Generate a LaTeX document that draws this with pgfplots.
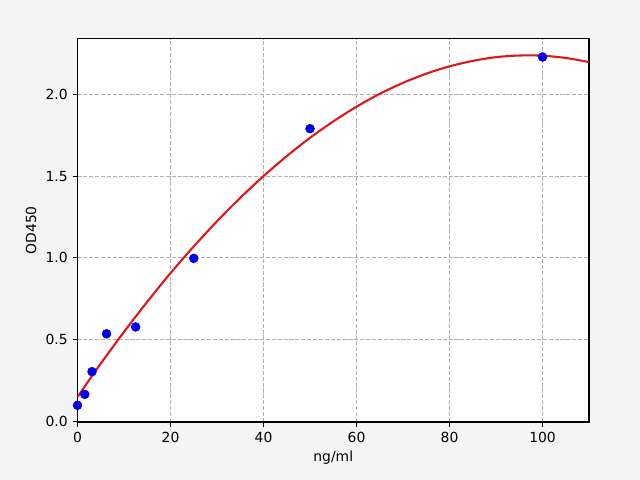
\documentclass[border=0pt]{standalone}
\usepackage{pgfplots}
\pgfplotsset{compat=1.18}
\usepackage{fontspec}
\setmainfont{DejaVu Sans}
\definecolor{figbg}{HTML}{F4F4F4}
\definecolor{gridgray}{HTML}{B0B0B0}
\definecolor{fitred}{RGB}{222,24,24}
\definecolor{ptblue}{RGB}{0,0,235}

\begin{document}
\fontsize{10}{12}\selectfont
\begin{tikzpicture}
% page of 640x480 px, 1 px = 0.72pt
\fill[figbg] (0,0) rectangle (460.8pt,345.6pt);

\begin{axis}[
    at={(55.8pt,41.76pt)},
    anchor=south west,
    scale only axis,
    width=368.3pt,
    height=276pt,
    xmin=0, xmax=110,
    ymin=-0.003, ymax=2.34,
    xtick={0,20,40,60,80,100},
    ytick={0,0.5,1.0,1.5,2.0},
    xticklabel style={/pgf/number format/fixed},
    yticklabel style={/pgf/number format/.cd, fixed, fixed zerofill, precision=1},
    /pgf/number format/assume math mode=true,
    tick align=outside,
    tick pos=left,
    major tick length=3.5pt,
    every tick/.style={black, line width=0.8pt},
    axis line style={line width=0.8pt},
    axis background/.style={fill=white},
    xmajorgrids=true,
    ymajorgrids=true,
    grid style={gridgray, line width=0.8pt, dash pattern=on 2.96pt off 1.28pt},
    xlabel={ng/ml},
    ylabel={OD450},
    xlabel style={at={(axis description cs:0.5,-0.094)}, anchor=center},
    ylabel style={at={(axis description cs:-0.091,0.5)}, anchor=center},
    clip=false,
]

% measured standards
\addplot[only marks, mark=*, mark size=3.2pt, ptblue, mark options={draw=ptblue, fill=ptblue}]
  coordinates {
    (0, 0.099)
    (1.5625, 0.166)
    (3.125, 0.305)
    (6.25, 0.536)
    (12.5, 0.578)
    (25, 0.997)
    (50, 1.790)
    (100, 2.228)
};

% fitted curve
\addplot[fitred, line width=1.5pt, smooth]
  coordinates {
    (0, 0.150)
    (2.5, 0.253)
    (5, 0.354)
    (10, 0.548)
    (15, 0.732)
    (20, 0.907)
    (25, 1.070)
    (30, 1.224)
    (35, 1.367)
    (40, 1.500)
    (45, 1.622)
    (50, 1.734)
    (55, 1.834)
    (60, 1.924)
    (65, 2.003)
    (70, 2.070)
    (75, 2.126)
    (80, 2.171)
    (85, 2.204)
    (90, 2.227)
    (95, 2.237)
    (100, 2.236)
    (105, 2.222)
    (110, 2.197)
};

\end{axis}
\end{tikzpicture}
\end{document}
